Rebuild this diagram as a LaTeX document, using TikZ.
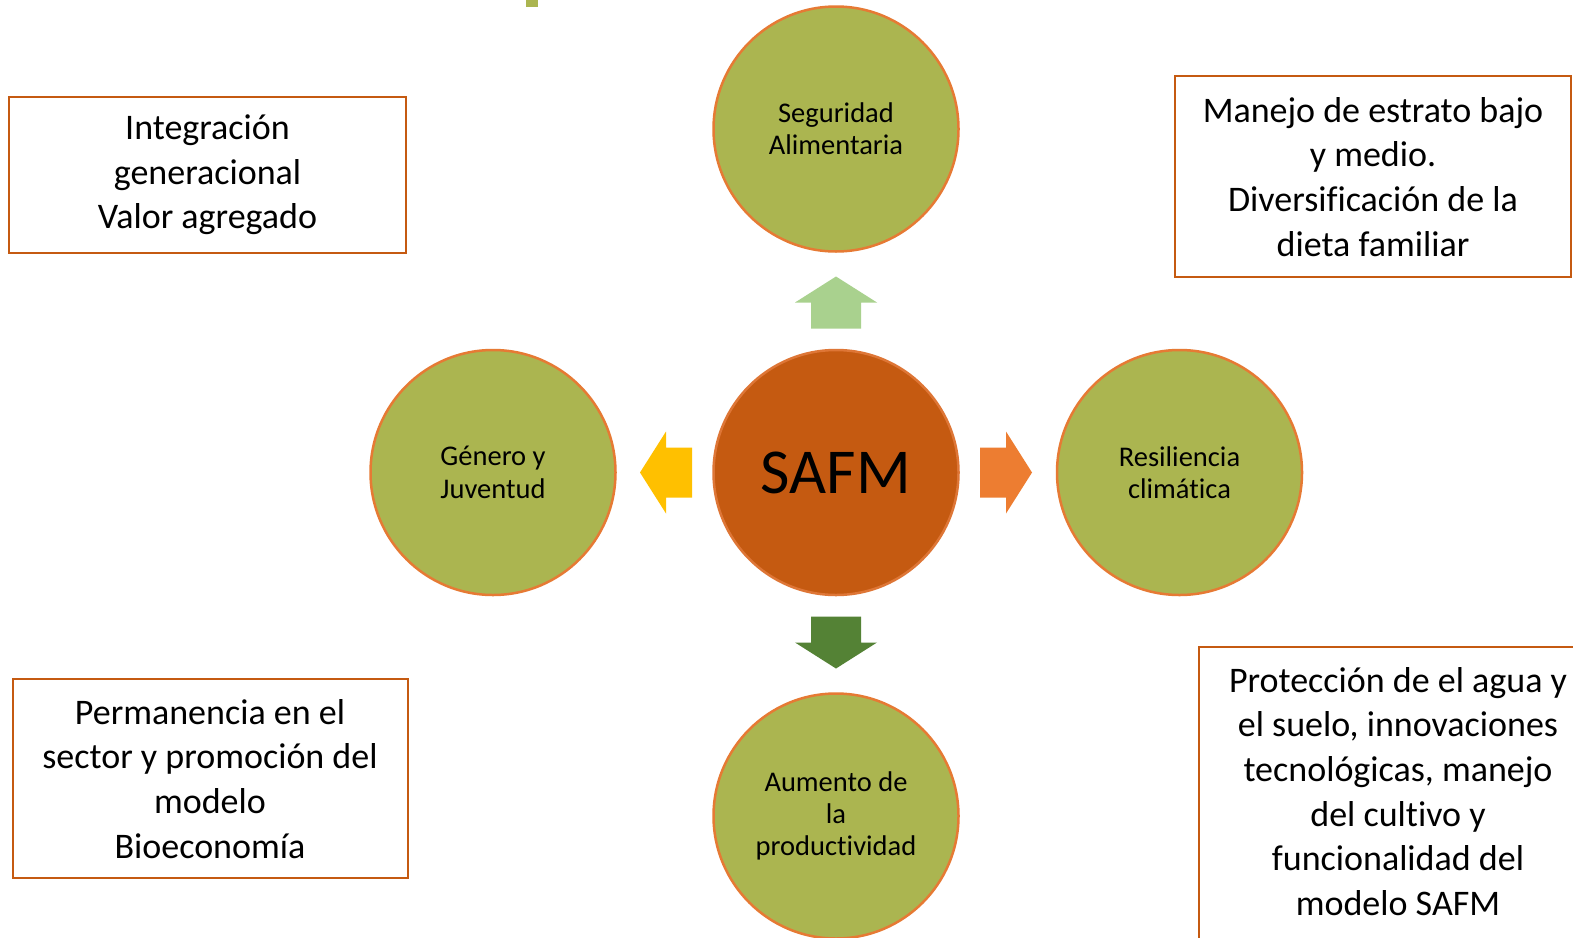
\documentclass[tikz,border=0pt]{standalone}
\usepackage{fontspec}
\setmainfont{Carlito}[Ligatures={NoCommon,NoContextual}]
\definecolor{olive}{RGB}{171,181,80}
\definecolor{circB}{RGB}{230,122,52}
\definecolor{safmF}{RGB}{197,90,17}
\definecolor{safmB}{RGB}{222,118,54}
\definecolor{boxB}{RGB}{197,90,17}
\definecolor{arUp}{RGB}{169,209,142}
\definecolor{arLeft}{RGB}{255,192,0}
\definecolor{arRight}{RGB}{237,125,49}
\definecolor{arDown}{RGB}{84,130,53}
\begin{document}
\begin{tikzpicture}[x=1pt,y=-1pt,
  bubble/.style={circle, draw=circB, line width=2.5pt, fill=olive, minimum size=245pt, inner sep=0pt, align=center, font=\fontsize{28.5}{32.3}\selectfont},
  infobox/.style={rectangle, draw=boxB, line width=2pt, fill=white, inner sep=0pt, align=center, font=\fontsize{36}{44.7}\selectfont},
  boxframe/.style={draw=boxB, line width=2pt}
]
\useasboundingbox (0,0) rectangle (1573,937);
\clip (0,0) rectangle (1573,937);
\fill[white] (0,0) rectangle (1573,937);

% small green mark at the top
\fill[olive] (526,-2) rectangle (538,6.7);

% circles
\node[bubble, fill=safmF, draw=safmB, font=\fontsize{64}{76}\selectfont] (c) at (836,472.5) {SAFM};
\node[bubble] (t) at (836,129) {Seguridad\\Alimentaria};
\node[bubble] (l) at (493,472.5) {Género y\\Juventud};
\node[bubble] (r) at (1179.5,472.5) {Resiliencia\\climática};
\node[bubble] (b) at (836,816) {Aumento de\\la\\productividad};

% block arrows
\begin{scope}[shift={(c.center)}]
  \fill[arUp]    (-25,-144) -- (-25,-170) -- (-41,-170) -- (0,-196) -- (41,-170) -- (25,-170) -- (25,-144) -- cycle;
  \fill[arDown]  (-25,144) -- (-25,170) -- (-41,170) -- (0,196) -- (41,170) -- (25,170) -- (25,144) -- cycle;
  \fill[arLeft]  (-144,-25) -- (-170,-25) -- (-170,-41) -- (-196,0) -- (-170,41) -- (-170,25) -- (-144,25) -- cycle;
  \fill[arRight] (144,-25) -- (170,-25) -- (170,-41) -- (196,0) -- (170,41) -- (170,25) -- (144,25) -- cycle;
\end{scope}

% text boxes
\node[infobox, minimum width=397pt, minimum height=156pt] (tl) at (207.5,175)
  {Integración\\generacional\\Valor agregado};
\node[infobox, minimum width=396pt, minimum height=201pt] (tr) at (1373,176.7)
  {Manejo de estrato bajo\\y medio.\\Diversificación de la\\dieta familiar};
\node[infobox, minimum width=395pt, minimum height=199pt] (bl) at (210,778.7)
  {Permanencia en el\\sector y promoción del\\modelo\\Bioeconomía};
\node[infobox, draw=none, minimum width=396pt, minimum height=288pt] (br) at (1398,791.5)
  {Protección de el agua y\\el suelo, innovaciones\\tecnológicas, manejo\\del cultivo y\\funcionalidad del\\modelo SAFM};
\draw[boxframe] ([yshift=-30pt]br.south west) -- (br.north west) -- ([xshift=10pt]br.north east);
\end{tikzpicture}
\end{document}
